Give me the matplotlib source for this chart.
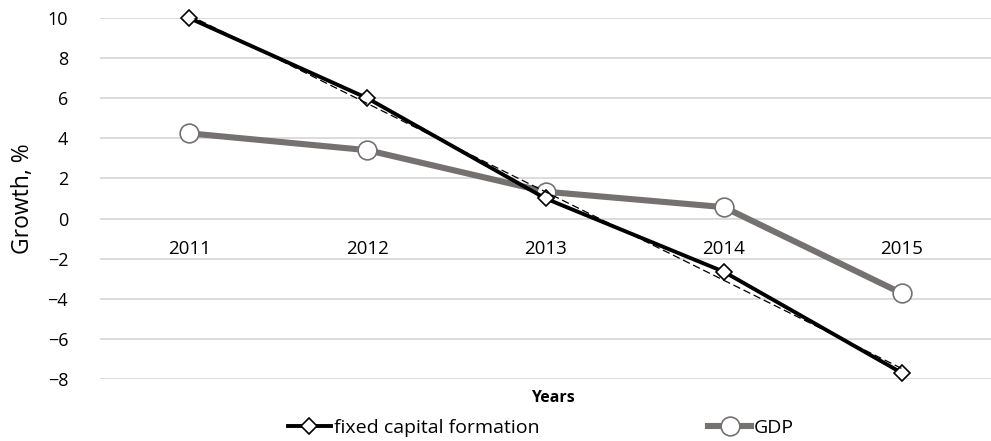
import numpy as np
import matplotlib
matplotlib.use("Agg")
import matplotlib.pyplot as plt

plt.rcParams['font.family'] = ['Open Sans', 'DejaVu Sans']

years = ['2011', '2012', '2013', '2014', '2015']
fixed_capital = [10.0, 6.0, 1.0, -2.65, -7.7]
gdp = [4.25, 3.41, 1.34, 0.57, -3.73]
yticks = [-8, -6, -4, -2, 0, 2, 4, 6, 8, 10]

x = np.arange(len(years))

fig = plt.figure(figsize=(9.91, 4.41), dpi=100)
ax = fig.add_axes([0.101, 0.1406, 0.899, 0.8186])

ax.set_ylim(-8, 10)
ax.set_xlim(-0.5, len(years) - 0.5)
ax.set_yticks(yticks)
ax.set_yticklabels([str(v).replace('-', '\u2212') for v in yticks], fontsize=13)
ax.set_xticks([])
ax.tick_params(axis='y', length=0, pad=23)
for s in ax.spines.values():
    s.set_visible(False)
ax.yaxis.grid(True, color='#d9d9d9', linewidth=1.3)
ax.set_axisbelow(True)

# gdp line
ax.plot(x, gdp, color='#767171', linewidth=4.4, marker='o', markersize=13.5,
        markerfacecolor='white', markeredgecolor='#767171', markeredgewidth=1.2,
        label='GDP', zorder=3, clip_on=False)

# fixed capital line
ax.plot(x, fixed_capital, color='black', linewidth=2.8, marker='D', markersize=8.5,
        markerfacecolor='white', markeredgecolor='black', markeredgewidth=1.2,
        label='fixed capital formation', zorder=4, clip_on=False)

# linear trend of fixed capital
k, b = np.polyfit(x, fixed_capital, 1)
ax.plot(x, k * x + b, color='black', linewidth=0.9, linestyle=(0, (6, 3)), zorder=5)

for i, yr in enumerate(years):
    ax.text(i, -1.5, yr, ha='center', va='center', fontsize=13.5)

ax.set_ylabel('Growth, %', fontsize=16.5, labelpad=9)
fig.text(0.558, 0.098, 'Years', ha='center', va='center', fontsize=11.5, fontweight='bold')

h, l = ax.get_legend_handles_labels()
fig.legend([h[1], h[0]], [l[1], l[0]], loc='lower center', bbox_to_anchor=(0.546, -0.03),
           ncol=2, frameon=False, fontsize=14, handlelength=2.2, handletextpad=0.15,
           columnspacing=8.7)

fig.savefig('out.png', dpi=100)
